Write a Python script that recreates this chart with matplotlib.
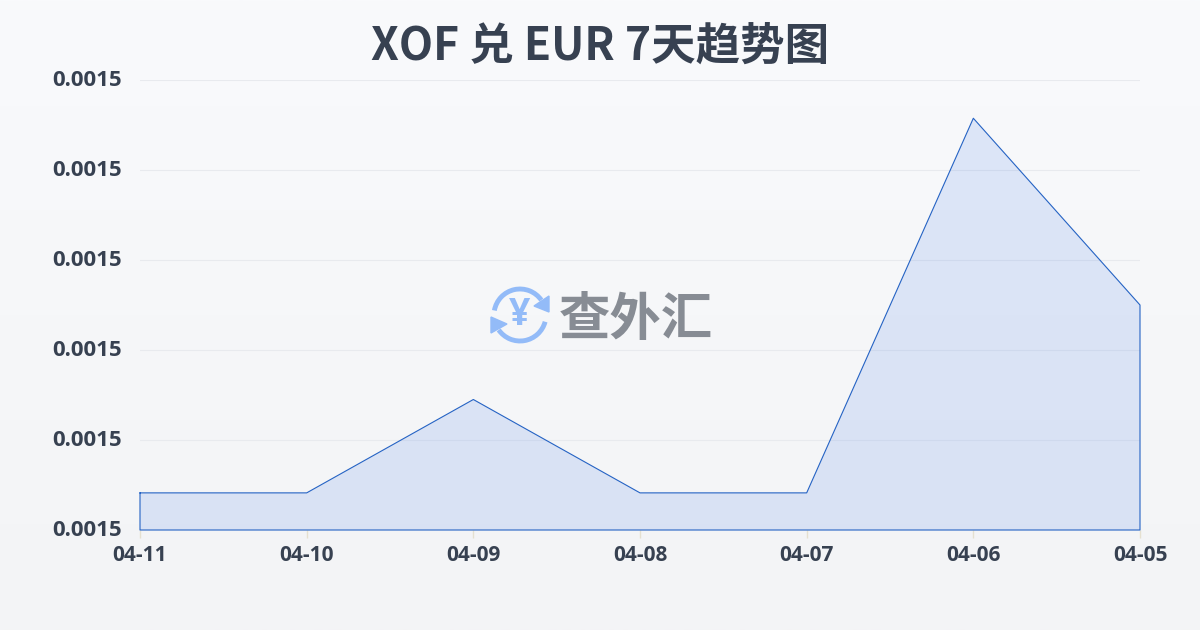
import numpy as np
import matplotlib
matplotlib.use('Agg')
import matplotlib.pyplot as plt
from matplotlib.patches import Arc, Polygon
from matplotlib.transforms import ScaledTranslation

plt.rcParams['font.family'] = ['Noto Sans CJK SC', 'DejaVu Sans']

dates = ['04-11', '04-10', '04-09', '04-08', '04-07', '04-06', '04-05']
rates = [0.0015033, 0.0015033, 0.0015116, 0.0015033, 0.0015033, 0.0015366, 0.0015200]
y_ticks = [0.001500, 0.001508, 0.001516, 0.001524, 0.001532, 0.001540]

text_color = '#374151'
line_color = '#2563c4'
label_font = ['Open Sans', 'DejaVu Sans']

fig = plt.figure(figsize=(12, 6.3), dpi=100)

# page background, slight vertical gradient
bg = fig.add_axes([0, 0, 1, 1], zorder=0)
grad = np.linspace(0, 1, 256).reshape(-1, 1)
cmap = matplotlib.colors.LinearSegmentedColormap.from_list('bg', ['#f9fafc', '#f3f4f6'])
bg.imshow(grad, aspect='auto', cmap=cmap, extent=[0, 1200, 630, 0])
bg.axis('off')

ax = fig.add_axes([140/1200, 1 - 530/630, 1000/1200, 450/630], zorder=1)
ax.patch.set_alpha(0)
x = list(range(len(dates)))
ax.fill_between(x, rates, y_ticks[0], facecolor='#1d5fe6', alpha=0.12, lw=0, zorder=3)
ax.plot(x + [x[-1], x[0], x[0]], rates + [y_ticks[0], y_ticks[0], rates[0]],
        color=line_color, lw=0.8, zorder=4, clip_on=False)

ax.set_xlim(0, len(dates) - 1)
ax.set_ylim(y_ticks[0], y_ticks[-1])
ax.set_xticks(x)
ax.set_xticklabels(dates, fontsize=15, fontweight='bold', color=text_color, family=label_font)
ax.set_yticks(y_ticks)
ax.set_yticklabels(['%.4f' % v for v in y_ticks], fontsize=16, fontweight='bold',
                   color=text_color, family=label_font)
ax.tick_params(axis='x', length=6, width=1, color='#e5e0d0', pad=5)
ax.tick_params(axis='y', length=0, pad=13)
# y labels sit a touch above their gridlines
for lab in ax.get_yticklabels():
    lab.set_transform(lab.get_transform() + ScaledTranslation(0, 2/100, fig.dpi_scale_trans))
ax.grid(axis='y', color='#e8eaee', lw=0.8, zorder=1)
ax.set_axisbelow(True)
for s in ax.spines.values():
    s.set_visible(False)

fig.text(0.5, 1 - 47/630, 'XOF 兑 EUR 7天趋势图', ha='center', va='center',
         fontsize=32, fontweight='bold', color=text_color)

# watermark logo
wm = fig.add_axes([0, 0, 1, 1], zorder=2)
wm.set_xlim(0, 1200)
wm.set_ylim(630, 0)
wm.axis('off')
wm.patch.set_alpha(0)
blue = '#93bbf8'
wm.add_patch(Arc((520, 315), 52, 52, theta1=190, theta2=325, color=blue, lw=3.5))
wm.add_patch(Arc((520, 315), 52, 52, theta1=15, theta2=145, color=blue, lw=3.5))
wm.add_patch(Polygon([[549, 296], [549, 312], [534, 306]], color=blue))
wm.add_patch(Polygon([[491, 317], [507, 324], [491, 333]], color=blue))
wm.text(520, 315, '¥', ha='center', va='center', fontsize=27, fontweight='bold', color=blue,
        family=label_font)
wm.text(636, 319, '查外汇', ha='center', va='center', fontsize=37, fontweight='bold', color='#878c94')

fig.savefig('out.png', dpi=100)
